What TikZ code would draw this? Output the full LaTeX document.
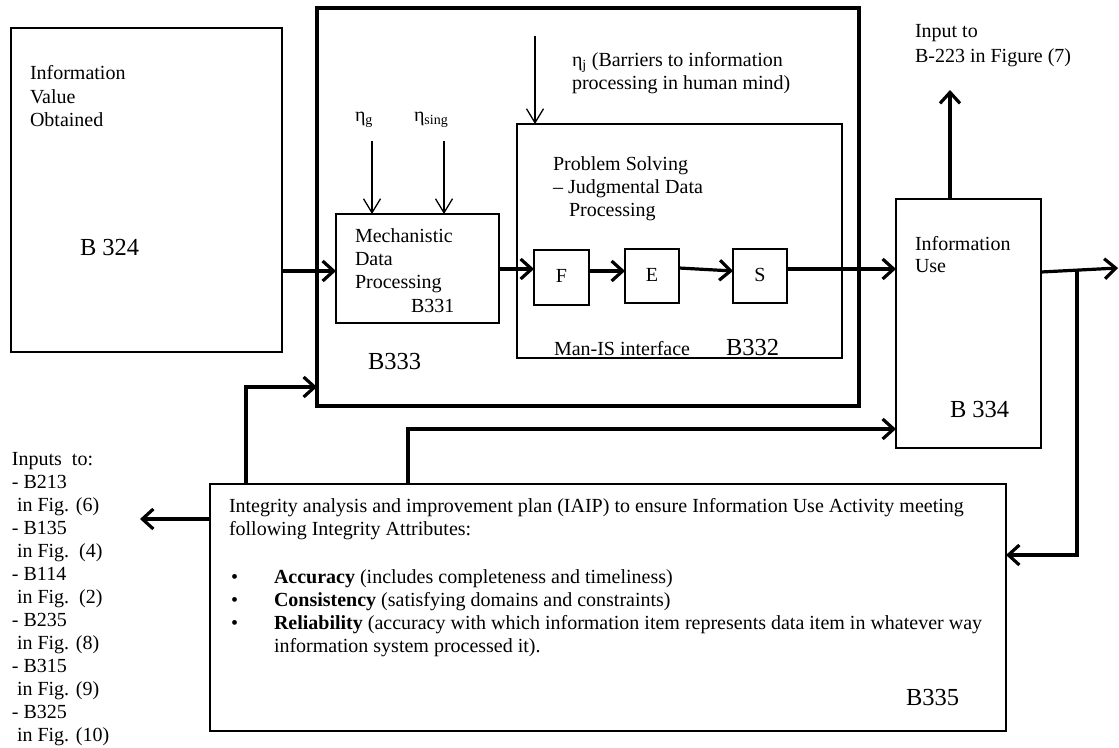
\documentclass[tikz,border=0pt]{standalone}
\usepackage{fontspec}
\setmainfont{Liberation Serif}
\usetikzlibrary{arrows.meta}
\begin{document}
\begin{tikzpicture}[x=1pt,y=-1pt,
  every node/.style={inner sep=0pt, outer sep=0pt, font=\fontsize{20}{23}\selectfont},
  box/.style={draw, line width=1.5pt},
  bigbox/.style={draw, line width=3.5pt},
  txt/.style={anchor=base west},
  lbl/.style={anchor=base west, font=\fontsize{24.5}{28}\selectfont},
  thk/.style={line width=3.2pt, -{Straight Barb[length=11pt,width=20pt]}},
  thn/.style={line width=1.3pt, -{Straight Barb[length=14pt,width=17pt]}}]
\useasboundingbox (0,0) rectangle (1119,747);

% boxes
\node[box, minimum width=271pt, minimum height=324pt] (b324) at (146.5,190) {};
\node[bigbox, minimum width=542pt, minimum height=398pt] (b333) at (588,207) {};
\node[box, minimum width=163pt, minimum height=109pt] (mech) at (417.5,268.5) {};
\node[box, minimum width=325pt, minimum height=234pt] (b332) at (679.5,241) {};
\node[box, minimum width=55pt, minimum height=55pt] (fbox) at (561.5,277.5) {\raisebox{4pt}{F}};
\node[box, minimum width=54pt, minimum height=54pt] (ebox) at (652,276) {\raisebox{3pt}{E}};
\node[box, minimum width=54pt, minimum height=54pt] (sbox) at (760,276) {\raisebox{3pt}{S}};
\node[box, minimum width=145pt, minimum height=249pt] (b334) at (968.5,323.5) {};
\node[box, minimum width=796pt, minimum height=247pt] (b335) at (608,607.5) {};

% B324 texts
\node[txt] (t324a) at (30,79) {Information};
\node[txt] (t324b) at (30,103) {Value};
\node[txt] (t324c) at (30,126) {Obtained};
\node[lbl] (l324) at (80,255) {B 324};

% B333 / mechanistic
\node[lbl] (l333) at (368,369) {B333};
\node[txt] (etag) at (355,121) {η\textsubscript{g}};
\node[txt] (etasing) at (414,121) {η\textsubscript{sing}};
\node[txt] (m1) at (355,242) {Mechanistic};
\node[txt] (m2) at (355,265) {Data};
\node[txt] (m3) at (355,288) {Processing};
\node[txt] (m4) at (411,312) {B331};

% B332 texts
\node[txt] (etaj1) at (572,66) {η\textsubscript{j} (Barriers to information};
\node[txt] (etaj2) at (572,89) {processing in human mind)};
\node[txt] (p1) at (553,170) {Problem Solving};
\node[txt] (p2) at (553,193) {– Judgmental Data};
\node[txt] (p3) at (569,216) {Processing};
\node[txt] (manis) at (554,355) {Man-IS interface};
\node[lbl] (l332) at (726,355) {B332};

% B334 texts
\node[txt] (in1) at (915,37) {Input to};
\node[txt] (in2) at (915,62) {B-223 in Figure (7)};
\node[txt] (u1) at (915,250) {Information};
\node[txt] (u2) at (915,272) {Use};
\node[lbl] (l334) at (950,417) {B 334};

% B335 texts
\node[txt] (i1) at (229,512) {Integrity analysis and improvement plan (IAIP) to ensure Information Use Activity meeting};
\node[txt] (i2) at (229,535) {following Integrity Attributes:};
\node[txt] (bu1) at (231,583) {\textbullet};
\node[txt] (bu2) at (231,606) {\textbullet};
\node[txt] (bu3) at (231,629) {\textbullet};
\node[txt] (a1) at (274,583) {\textbf{Accuracy} (includes completeness and timeliness)};
\node[txt] (a2) at (274,606) {\textbf{Consistency} (satisfying domains and constraints)};
\node[txt] (a3) at (274,629) {\textbf{Reliability} (accuracy with which information item represents data item in whatever way};
\node[txt] (a4) at (274,652) {information system processed it).};
\node[lbl] (l335) at (906,705) {B335};

% Inputs list
\node[txt] (k0) at (12,465) {Inputs\ \ to:};
\node[txt] (k1) at (12,488) {- B213};
\node[txt] (k2) at (17,511) {in Fig. (6)};
\node[txt] (k3) at (12,534) {- B135};
\node[txt] (k4) at (17,557) {in Fig.\ \ (4)};
\node[txt] (k5) at (12,580) {- B114};
\node[txt] (k6) at (17,603) {in Fig.\ \ (2)};
\node[txt] (k7) at (12,626) {- B235};
\node[txt] (k8) at (17,649) {in Fig. (8)};
\node[txt] (k9) at (12,672) {- B315};
\node[txt] (k10) at (17,695) {in Fig. (9)};
\node[txt] (k11) at (12,718) {- B325};
\node[txt] (k12) at (17,741) {in Fig. (10)};

% free ends
\coordinate (etagtop) at (372,141);
\coordinate (etasingtop) at (444,141);
\coordinate (etajtop) at (535,36);
\coordinate (uptip) at (950,90);
\coordinate (righttip) at (1118,268);
\coordinate (jn) at (1077,270.5);
\coordinate (lefttip) at (140,519);

% thin arrows
\draw[thn] (etagtop) -- (mech.north -| etagtop);
\draw[thn] (etasingtop) -- (mech.north -| etasingtop);
\draw[thn] (etajtop) -- (b332.north -| etajtop);

% main flow
\draw[thk] (b324.east |- 0,271) -- (mech.west |- 0,271);
\draw[thk] (mech.east |- 0,269) -- (fbox.west |- 0,269);
\draw[thk] (fbox.east |- 0,271) -- (ebox.west |- 0,271);
\draw[thk] (ebox.east |- 0,268) -- (sbox.west |- 0,271);
\draw[thk] (sbox.east |- 0,269) -- (b334.west |- 0,269);
\draw[thk] (b334.north -| uptip) -- (uptip);
\draw[thk] (b334.east |- 0,272) -- (righttip);
\draw[thk] (jn) -- (jn |- 0,555) -- (b335.east |- 0,555);
\draw[thk] (b335.north -| 246,0) -- (246,387) -- (b333.west |- 0,387);
\draw[thk] (b335.north -| 408,0) -- (408,429) -- (b334.west |- 0,429);
\draw[thk] (b335.west |- 0,519) -- (lefttip);
\end{tikzpicture}
\end{document}
